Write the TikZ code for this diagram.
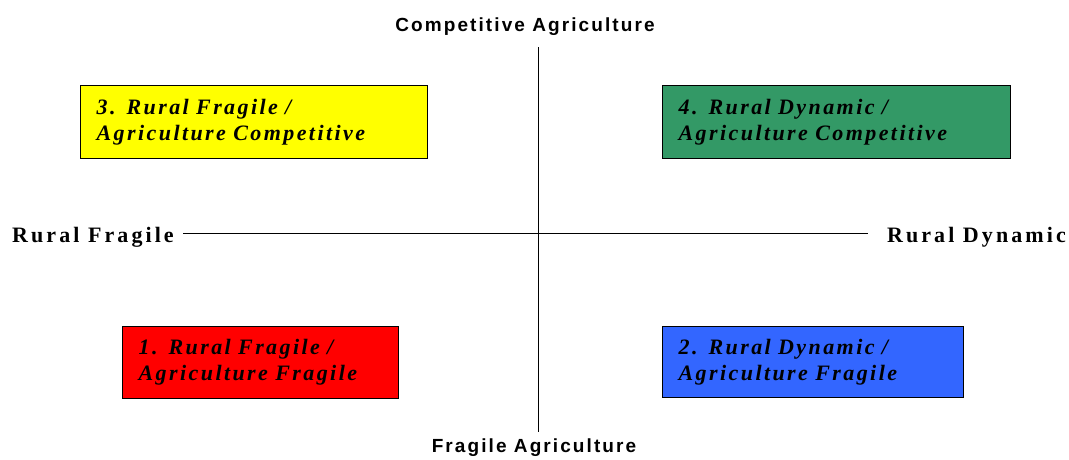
\documentclass[tikz,border=0pt]{standalone}
\usepackage{fontspec}
\setmainfont{Liberation Serif}
\setsansfont{Liberation Sans}
\definecolor{qyellow}{HTML}{FFFF00}
\definecolor{qgreen}{HTML}{339966}
\definecolor{qred}{HTML}{FF0000}
\definecolor{qblue}{HTML}{3366FF}
\begin{document}
\begin{tikzpicture}[x=1pt,y=-1pt,
  quadbox/.style={draw=black, line width=1.3pt, anchor=north west,
    inner xsep=16pt, align=left,
    font=\fontsize{22}{26}\selectfont\bfseries\itshape\addfontfeature{LetterSpace=11}},
  axislabel/.style={font=\fontsize{19}{22}\selectfont\sffamily\bfseries\addfontfeature{LetterSpace=11}, inner sep=0pt},
  sidelabel/.style={font=\fontsize{22}{24}\selectfont\bfseries\addfontfeature{LetterSpace=14}, inner sep=0pt},
  axisline/.style={draw=black, line width=1pt}]
\useasboundingbox (0,0) rectangle (1069,459);
\fill[white] (0,0) rectangle (1069,459);

% axes
\coordinate (vtop) at (538,47);
\coordinate (vbot) at (538,432);
\coordinate (hleft) at (183,233);
\coordinate (hright) at (868,233);
\draw[axisline] (vtop) -- (vbot);
\draw[axisline] (hleft) -- (hright);

% axis labels
\node[axislabel] (ctop) at (525,27) {Competitive Agriculture};
\node[axislabel] (fbot) at (534,448) {Fragile Agriculture};
\node[sidelabel, anchor=west] (rfrag) at (12,237) {Rural Fragile};
\node[sidelabel, anchor=east] (rdyn) at (1066,237) {Rural Dynamic};

% quadrant boxes
\node[quadbox, fill=qyellow, minimum width=347pt, minimum height=73pt, text width=315pt] (q3) at (80,85)
  {3. Rural Fragile /\\Agriculture Competitive};
\node[quadbox, fill=qgreen, minimum width=348pt, minimum height=73pt, text width=316pt] (q4) at (662,85)
  {4. Rural Dynamic /\\Agriculture Competitive};
\node[quadbox, fill=qred, minimum width=276pt, minimum height=72pt, text width=244pt] (q1) at (122,326)
  {1. Rural Fragile /\\Agriculture Fragile};
\node[quadbox, fill=qblue, minimum width=301pt, minimum height=71pt, text width=269pt] (q2) at (662,326)
  {2. Rural Dynamic /\\Agriculture Fragile};
\end{tikzpicture}
\end{document}
